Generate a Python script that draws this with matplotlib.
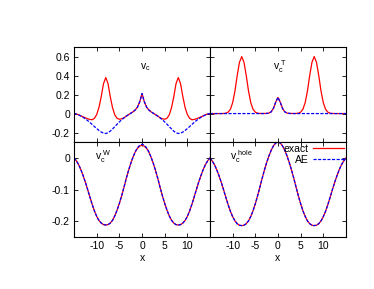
import numpy as np
import matplotlib
matplotlib.use("Agg")
import matplotlib.pyplot as plt

plt.rcParams["font.family"] = ["Liberation Sans", "DejaVu Sans"]
plt.rcParams["font.size"] = 7.5
plt.rcParams["mathtext.default"] = "regular"
plt.rcParams["axes.unicode_minus"] = False
plt.rcParams["xtick.direction"] = "in"
plt.rcParams["ytick.direction"] = "in"
plt.rcParams["xtick.top"] = True
plt.rcParams["ytick.right"] = True

# x grid, -15 .. 15 in steps of 0.5
x = np.linspace(-15, 15, 61)

# v_c (top left)
vc_exact = [0.000, -0.005, -0.013, -0.024, -0.035, -0.045, -0.055, -0.062, -0.065, -0.050,
            -0.010, 0.065, 0.180, 0.315, 0.380, 0.315, 0.175, 0.060, -0.015, -0.050,
            -0.060, -0.055, -0.045, -0.028, -0.012, 0.003, 0.018, 0.038, 0.068, 0.125,
            0.210,
            0.125, 0.068, 0.038, 0.018, 0.003, -0.012, -0.028, -0.045, -0.055, -0.060,
            -0.050, -0.015, 0.060, 0.175, 0.315, 0.380, 0.315, 0.180, 0.065, -0.010,
            -0.050, -0.065, -0.062, -0.055, -0.045, -0.035, -0.024, -0.013, -0.005, 0.000]
vc_ae = [0.000, -0.005, -0.014, -0.026, -0.040, -0.056, -0.074, -0.094, -0.115, -0.137,
         -0.158, -0.178, -0.195, -0.206, -0.210, -0.202, -0.185, -0.162, -0.137, -0.112,
         -0.088, -0.066, -0.046, -0.028, -0.012, 0.003, 0.018, 0.038, 0.068, 0.125,
         0.210,
         0.125, 0.068, 0.038, 0.018, 0.003, -0.012, -0.028, -0.046, -0.066, -0.088,
         -0.112, -0.137, -0.162, -0.185, -0.202, -0.210, -0.206, -0.195, -0.178, -0.158,
         -0.137, -0.115, -0.094, -0.074, -0.056, -0.040, -0.026, -0.014, -0.005, 0.000]

# v_c^T (top right)
vcT_exact = [0.000, 0.000, 0.000, 0.000, 0.000, 0.000, 0.001, 0.004, 0.015, 0.045,
             0.115, 0.237, 0.400, 0.540, 0.600, 0.540, 0.400, 0.237, 0.115, 0.045,
             0.015, 0.004, 0.001, 0.001, 0.001, 0.002, 0.005, 0.018, 0.055, 0.120,
             0.170,
             0.120, 0.055, 0.018, 0.005, 0.002, 0.001, 0.001, 0.001, 0.004, 0.015,
             0.045, 0.115, 0.237, 0.400, 0.540, 0.600, 0.540, 0.400, 0.237, 0.115,
             0.045, 0.015, 0.004, 0.001, 0.000, 0.000, 0.000, 0.000, 0.000, 0.000]
vcT_ae = [0.000, 0.000, 0.000, 0.000, 0.000, 0.000, 0.000, 0.000, 0.000, 0.000,
          0.000, 0.000, 0.000, 0.000, 0.000, 0.000, 0.000, 0.000, 0.000, 0.000,
          0.000, 0.000, 0.000, 0.000, 0.000, 0.001, 0.005, 0.018, 0.055, 0.120,
          0.170,
          0.120, 0.055, 0.018, 0.005, 0.001, 0.000, 0.000, 0.000, 0.000, 0.000,
          0.000, 0.000, 0.000, 0.000, 0.000, 0.000, 0.000, 0.000, 0.000, 0.000,
          0.000, 0.000, 0.000, 0.000, 0.000, 0.000, 0.000, 0.000, 0.000, 0.000]

# v_c^W (bottom left)
vcW_exact = [0.000, -0.009, -0.021, -0.037, -0.056, -0.077, -0.100, -0.124, -0.147, -0.168,
             -0.185, -0.198, -0.206, -0.211, -0.212, -0.211, -0.206, -0.197, -0.183, -0.165,
             -0.144, -0.120, -0.094, -0.066, -0.041, -0.018, 0.002, 0.019, 0.030, 0.037,
             0.040,
             0.037, 0.030, 0.019, 0.002, -0.018, -0.041, -0.066, -0.094, -0.120, -0.144,
             -0.165, -0.183, -0.197, -0.206, -0.211, -0.212, -0.211, -0.206, -0.198, -0.185,
             -0.168, -0.147, -0.124, -0.100, -0.077, -0.056, -0.037, -0.021, -0.009, 0.000]
vcW_ae = [0.000, -0.009, -0.021, -0.037, -0.056, -0.077, -0.100, -0.124, -0.147, -0.168,
          -0.185, -0.198, -0.206, -0.211, -0.212, -0.211, -0.206, -0.197, -0.183, -0.165,
          -0.144, -0.120, -0.094, -0.066, -0.041, -0.018, 0.002, 0.019, 0.032, 0.040,
          0.043,
          0.040, 0.032, 0.019, 0.002, -0.018, -0.041, -0.066, -0.094, -0.120, -0.144,
          -0.165, -0.183, -0.197, -0.206, -0.211, -0.212, -0.211, -0.206, -0.198, -0.185,
          -0.168, -0.147, -0.124, -0.100, -0.077, -0.056, -0.037, -0.021, -0.009, 0.000]

# v_c^hole (bottom right)
vch_exact = [0.000, -0.010, -0.022, -0.038, -0.057, -0.078, -0.101, -0.125, -0.148, -0.169,
             -0.186, -0.199, -0.208, -0.213, -0.214, -0.213, -0.208, -0.199, -0.185, -0.167,
             -0.145, -0.120, -0.093, -0.065, -0.039, -0.015, 0.006, 0.024, 0.038, 0.047,
             0.050,
             0.047, 0.038, 0.024, 0.006, -0.015, -0.039, -0.065, -0.093, -0.120, -0.145,
             -0.167, -0.185, -0.199, -0.208, -0.213, -0.214, -0.213, -0.208, -0.199, -0.186,
             -0.169, -0.148, -0.125, -0.101, -0.078, -0.057, -0.038, -0.022, -0.010, 0.000]
vch_ae = list(vch_exact)

xticks = [-10, -5, 0, 5, 10]
top_yticks = [-0.2, 0, 0.2, 0.4, 0.6]
top_ylabels = ["-0.2", "0", "0.2", "0.4", "0.6"]
bot_yticks = [-0.2, -0.1, 0]
bot_ylabels = ["-0.2", "-0.1", "0"]

red = "#ff0000"
blue = "#0000ff"
dash = (0, (2.5, 1.2))

fig = plt.figure(figsize=(3.74, 2.89), dpi=100)
gs = fig.add_gridspec(2, 2, left=0.198, right=0.925, top=0.837, bottom=0.180,
                      wspace=0, hspace=0)

panels = [
    (0, 0, vc_exact, vc_ae, r"$v_c$", (0.7, 0.49), (-0.3, 0.7)),
    (0, 1, vcT_exact, vcT_ae, r"$v_c^{\ T}$", (0.4, 0.49), (-0.3, 0.7)),
    (1, 0, vcW_exact, vcW_ae, r"$v_c^{\ W}$", (-8.6, 0.005), (-0.25, 0.05)),
    (1, 1, vch_exact, vch_ae, r"$v_c^{\ hole}$", (-8.0, 0.005), (-0.25, 0.05)),
]

for row, col, y_ex, y_ae, label, pos, ylim in panels:
    ax = fig.add_subplot(gs[row, col])
    ax.plot(x, y_ex, color=red, linewidth=0.9, label="exact")
    ax.plot(x, y_ae, color=blue, linewidth=0.9, linestyle=dash, label="AE")
    ax.set_xlim(-15, 15)
    ax.set_ylim(*ylim)
    ax.set_xticks(xticks)
    if row == 0:
        ax.set_yticks(top_yticks)
        ax.set_yticklabels(top_ylabels)
        ax.tick_params(labelbottom=False)
    else:
        ax.set_yticks(bot_yticks)
        ax.set_yticklabels(bot_ylabels)
        ax.set_xticklabels([str(t) for t in xticks])
        ax.set_xlabel("x", labelpad=1)
    if col == 1:
        ax.tick_params(labelleft=False)
    ax.tick_params(length=3, width=0.6, pad=3)
    for s in ax.spines.values():
        s.set_linewidth(0.8)
    ax.text(pos[0], pos[1], label, ha="center", va="center", fontsize=7.5)
    if row == 1 and col == 1:
        ax.legend(loc="upper right", frameon=False, markerfirst=False,
                  handlelength=3.0, handletextpad=0.4, labelspacing=0.1,
                  borderaxespad=0.05, borderpad=0.1, fontsize=7.5)

plt.savefig("out.png", dpi=100)
